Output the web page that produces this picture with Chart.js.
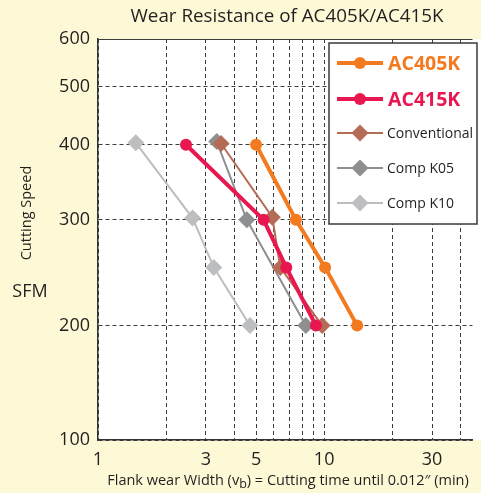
<!DOCTYPE html>
<html>
<head>
<meta charset="utf-8">
<script src="https://cdn.jsdelivr.net/npm/chart.js@4.4.1/dist/chart.umd.min.js"></script>
<style>
  html, body { margin: 0; padding: 0; background: #fdf9d7; }
  #wrap { width: 481px; height: 493px; }
</style>
</head>
<body>
<div id="wrap"><canvas id="chart" width="481" height="493"></canvas></div>
<script>
// series: cutting time (min) vs cutting speed (SFM)
const seriesNames = ['AC405K', 'AC415K', 'Conventional', 'Comp K05', 'Comp K10'];
const ac405kTime = [5, 7.5, 10.1, 14];
const ac405kSpeed = [400, 300, 250, 200];
const ac415kTime = [2.45, 5.4, 6.8, 9.2];
const ac415kSpeed = [400, 300, 250, 200];
const conventionalTime = [3.5, 5.9, 6.4, 9.8];
const conventionalSpeed = [402, 303, 250, 200];
const compK05Time = [3.35, 4.55, 8.3];
const compK05Speed = [405, 300, 200];
const compK10Time = [1.47, 2.62, 3.25, 4.7];
const compK10Speed = [403, 302, 250, 200];

const xAxisMax = 45.3;
const xGridValues = [1, 2, 3, 4, 5, 6, 7, 8, 9, 10, 20, 30, 40];
const xTickLabels = { 1: '1', 3: '3', 5: '5', 10: '10', 30: '30' };
// y axis is broken below 200: the bottom edge is labelled 100
const yAxisFloor = 129;
const yGridValues = [yAxisFloor, 200, 300, 400, 500, 600];
const yTickLabels = ['100', '200', '300', '400', '500', '600'];

const FONT = '"Open Sans", "DejaVu Sans", sans-serif';
const TEXT = '#231f20';
const GRID = '#3c3c3c';

const toPoints = (xs, ys) => xs.map((x, i) => ({ x: x, y: ys[i] }));

const mainStyle = (color) => ({
  borderColor: color,
  backgroundColor: color,
  borderWidth: 4,
  pointStyle: 'circle',
  pointRadius: 6,
  pointBorderWidth: 0,
  pointBackgroundColor: color,
});
const compStyle = (color) => ({
  borderColor: color,
  backgroundColor: color,
  borderWidth: 2,
  pointStyle: 'rectRot',
  pointRadius: 8.5,
  pointBorderWidth: 0,
  pointBackgroundColor: color,
});

const chartData = {
  datasets: [
    { label: seriesNames[0], data: toPoints(ac405kTime, ac405kSpeed), ...mainStyle('#f47a20') },
    { label: seriesNames[1], data: toPoints(ac415kTime, ac415kSpeed), ...mainStyle('#e8174f') },
    { label: seriesNames[2], data: toPoints(conventionalTime, conventionalSpeed), ...compStyle('#b56c56') },
    { label: seriesNames[3], data: toPoints(compK05Time, compK05Speed), ...compStyle('#8e8f91') },
    { label: seriesNames[4], data: toPoints(compK10Time, compK10Speed), ...compStyle('#bdbec0') },
  ],
};

const background = {
  id: 'background',
  beforeDraw(chart) {
    const { ctx, chartArea: a } = chart;
    ctx.save();
    ctx.fillStyle = '#fdf9d7';
    ctx.fillRect(0, 0, chart.width, chart.height);
    ctx.fillStyle = '#ffffff';
    ctx.fillRect(a.left, a.top, chart.width - a.left, a.bottom - a.top);
    ctx.restore();
  },
};

const labelsAndLegend = {
  id: 'labelsAndLegend',
  afterDraw(chart) {
    const { ctx } = chart;
    ctx.save();
    ctx.fillStyle = TEXT;
    ctx.textBaseline = 'middle';

    // title
    ctx.textAlign = 'center';
    ctx.font = '18.8px ' + FONT;
    ctx.fillText('Wear Resistance of AC405K/AC415K', 287, 17);

    // y axis titles
    ctx.font = '18px ' + FONT;
    ctx.fillText('SFM', 30, 292);
    ctx.save();
    ctx.translate(27, 213);
    ctx.rotate(-Math.PI / 2);
    ctx.font = '14.5px ' + FONT;
    ctx.fillText('Cutting Speed', 0, 0);
    ctx.restore();

    // x axis title with subscript b
    const parts = [
      ['Flank wear Width (v', 14.5, 0],
      ['b', 12.5, 3],
      [') = Cutting time until 0.012\u2033 (min)', 14.5, 0],
    ];
    let total = 0;
    parts.forEach(p => { ctx.font = p[1] + 'px ' + FONT; total += ctx.measureText(p[0]).width; });
    let x = 288 - total / 2;
    ctx.textAlign = 'left';
    parts.forEach(p => {
      ctx.font = p[1] + 'px ' + FONT;
      ctx.fillText(p[0], x, 481 + p[2]);
      x += ctx.measureText(p[0]).width;
    });

    // legend box inside the plot
    const bx = 329, by = 43, bw = 148, bh = 181;
    ctx.fillStyle = '#ffffff';
    ctx.fillRect(bx, by, bw, bh);
    ctx.strokeStyle = '#3a3a3a';
    ctx.lineWidth = 1.5;
    ctx.strokeRect(bx, by, bw, bh);
    const rowY = [63, 99, 133, 168, 203];
    chart.data.datasets.forEach((ds, i) => {
      const y = rowY[i];
      ctx.strokeStyle = ds.borderColor;
      ctx.lineWidth = ds.borderWidth;
      ctx.beginPath();
      ctx.moveTo(337, y);
      ctx.lineTo(383, y);
      ctx.stroke();
      ctx.fillStyle = ds.borderColor;
      ctx.beginPath();
      if (ds.pointStyle === 'circle') {
        ctx.arc(360, y, ds.pointRadius, 0, Math.PI * 2);
      } else {
        const r = ds.pointRadius;
        ctx.moveTo(360, y - r);
        ctx.lineTo(360 + r, y);
        ctx.lineTo(360, y + r);
        ctx.lineTo(360 - r, y);
        ctx.closePath();
      }
      ctx.fill();
      ctx.textAlign = 'left';
      if (i < 2) {
        ctx.font = 'bold 19.5px ' + FONT;
        ctx.fillStyle = ds.borderColor;
        ctx.fillText(ds.label, 388, y + 1);
      } else {
        ctx.font = '14px ' + FONT;
        ctx.fillStyle = TEXT;
        ctx.fillText(ds.label, 387, y + 1);
      }
    });
    ctx.restore();
  },
};

new Chart(document.getElementById('chart'), {
  type: 'line',
  data: chartData,
  options: {
    responsive: false,
    animation: false,
    layout: { padding: { top: 39, left: 0, right: 0, bottom: 0 } },
    plugins: {
      legend: { display: false },
      title: { display: false },
      tooltip: { enabled: false },
    },
    scales: {
      x: {
        type: 'logarithmic',
        min: 1,
        max: xAxisMax,
        afterBuildTicks: (scale) => { scale.ticks = xGridValues.map(v => ({ value: v })); },
        afterFit: (scale) => { scale.height = 53; },
        ticks: {
          autoSkip: false,
          maxRotation: 0,
          padding: 9,
          color: TEXT,
          font: { family: FONT, size: 18 },
          callback: (v) => xTickLabels[v] || '',
        },
        grid: { color: GRID, lineWidth: 1, drawTicks: false },
        border: { display: true, color: '#333', width: 1.5, dash: [4, 3] },
      },
      y: {
        type: 'logarithmic',
        min: yAxisFloor,
        max: 600,
        afterBuildTicks: (scale) => { scale.ticks = yGridValues.map(v => ({ value: v })); },
        afterFit: (scale) => { scale.width = 98; },
        ticks: {
          autoSkip: false,
          padding: 8,
          color: TEXT,
          font: { family: FONT, size: 18 },
          callback: (v, i) => yTickLabels[i],
        },
        grid: { color: GRID, lineWidth: 1, drawTicks: false },
        border: {
          display: true,
          color: '#333',
          width: 1.5,
          dash: (ctx) => (ctx.tick && ctx.tick.value === 600 ? [] : [4, 3]),
        },
      },
    },
  },
  plugins: [background, labelsAndLegend],
});
</script>
</body>
</html>
